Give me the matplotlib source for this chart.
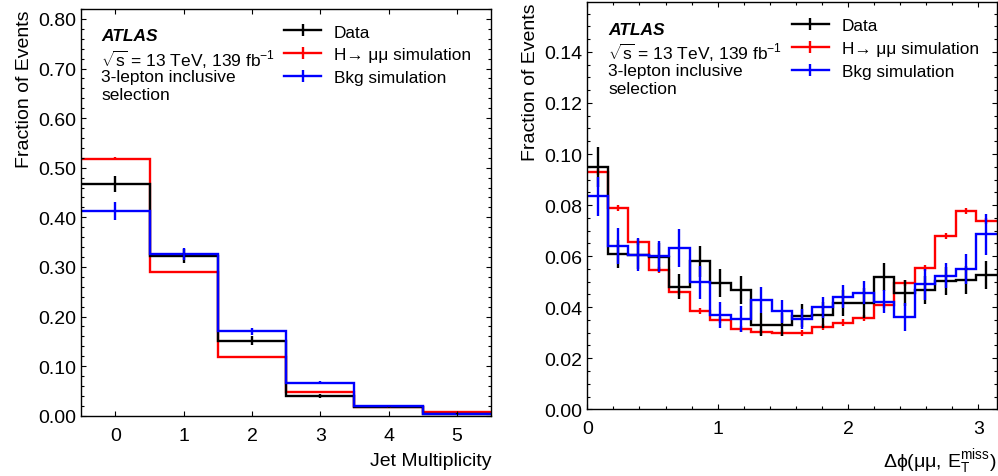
import matplotlib
matplotlib.use('Agg')
import matplotlib.pyplot as plt
from matplotlib.lines import Line2D
from matplotlib.ticker import MultipleLocator, FormatStrFormatter
import numpy as np

plt.rcParams['font.family'] = ['Liberation Sans', 'DejaVu Sans']
plt.rcParams['mathtext.fontset'] = 'custom'
plt.rcParams['mathtext.rm'] = 'Liberation Sans'
plt.rcParams['mathtext.it'] = 'Liberation Sans:italic'
plt.rcParams['mathtext.bf'] = 'Liberation Sans:bold'

# --- left panel: jet multiplicity ---
njet_edges = [-0.5, 0.5, 1.5, 2.5, 3.5, 4.5, 5.5]
njet_data = [0.467, 0.322, 0.151, 0.040, 0.018, 0.004]
njet_data_err = [0.016, 0.014, 0.009, 0.004, 0.002, 0.001]
njet_sig = [0.518, 0.289, 0.118, 0.048, 0.017, 0.007]
njet_sig_err = [0.003, 0.002, 0.002, 0.001, 0.0005, 0.0003]
njet_bkg = [0.412, 0.326, 0.170, 0.066, 0.019, 0.003]
njet_bkg_err = [0.018, 0.012, 0.007, 0.003, 0.001, 0.0005]

# --- right panel: delta phi(mumu, MET), 20 bins over [0, pi] ---
dphi_edges = np.linspace(0, np.pi, 21)
dphi_data = [0.0949, 0.0609, 0.0605, 0.0596, 0.0481, 0.0579, 0.0495, 0.0467, 0.0332, 0.0331,
             0.0367, 0.0370, 0.0417, 0.0417, 0.0520, 0.0455, 0.0469, 0.0504, 0.0505, 0.0527]
dphi_data_err = [0.008, 0.0055, 0.0055, 0.0055, 0.005, 0.006, 0.0055, 0.0055, 0.0045, 0.0045,
                 0.0045, 0.005, 0.005, 0.006, 0.0055, 0.005, 0.0055, 0.0055, 0.0055, 0.0055]
dphi_sig = [0.0928, 0.0788, 0.0656, 0.0544, 0.0461, 0.0384, 0.0350, 0.0315, 0.0304, 0.0299,
            0.0299, 0.0324, 0.0340, 0.0357, 0.0410, 0.0494, 0.0553, 0.0680, 0.0776, 0.0736]
dphi_sig_err = [0.0012] * 20
dphi_bkg = [0.0834, 0.0639, 0.0605, 0.0599, 0.0633, 0.0498, 0.0370, 0.0353, 0.0429, 0.0384,
            0.0354, 0.0399, 0.0440, 0.0456, 0.0422, 0.0363, 0.0490, 0.0524, 0.0550, 0.0685]
dphi_bkg_err = [0.0075, 0.007, 0.0065, 0.006, 0.0075, 0.0065, 0.005, 0.005, 0.005, 0.0045,
                0.004, 0.004, 0.0045, 0.0045, 0.0045, 0.0055, 0.006, 0.005, 0.006, 0.008]

colors = {'data': 'black', 'sig': '#ff0000', 'bkg': '#0000ff'}
labels = {'data': 'Data', 'sig': 'H\u2192 \u03bc\u03bc simulation', 'bkg': 'Bkg simulation'}
lw = 1.7

fig = plt.figure(figsize=(9.98, 4.77), dpi=100)
axL = fig.add_axes([0.0815, 0.1264, 0.4105, 0.8526])
axR = fig.add_axes([0.5885, 0.1398, 0.4102, 0.8537])


def draw(ax, edges, series):
    edges = np.asarray(edges)
    centers = 0.5 * (edges[1:] + edges[:-1])
    for key, vals, errs in series:
        ax.stairs(vals, edges, baseline=None, color=colors[key], lw=lw)
        ax.errorbar(centers, vals, yerr=errs, fmt='none', ecolor=colors[key], elinewidth=lw, capsize=0)


draw(axL, njet_edges, [('sig', njet_sig, njet_sig_err),
                       ('data', njet_data, njet_data_err),
                       ('bkg', njet_bkg, njet_bkg_err)])
draw(axR, dphi_edges, [('sig', dphi_sig, dphi_sig_err),
                       ('data', dphi_data, dphi_data_err),
                       ('bkg', dphi_bkg, dphi_bkg_err)])

axL.set_xlim(-0.5, 5.5)
axL.set_ylim(0, 0.82)
axL.xaxis.set_major_locator(MultipleLocator(1))
axL.yaxis.set_major_locator(MultipleLocator(0.1))
axL.yaxis.set_minor_locator(MultipleLocator(0.02))
axL.yaxis.set_major_formatter(FormatStrFormatter('%.2f'))
axL.set_xlabel('Jet Multiplicity', loc='right', fontsize=14, labelpad=6)

axR.set_xlim(0, np.pi)
axR.set_ylim(0, 0.1595)
axR.xaxis.set_major_locator(MultipleLocator(1))
axR.xaxis.set_minor_locator(MultipleLocator(0.2))
axR.yaxis.set_major_locator(MultipleLocator(0.02))
axR.yaxis.set_minor_locator(MultipleLocator(0.005))
axR.yaxis.set_major_formatter(FormatStrFormatter('%.2f'))
axR.set_xlabel(r'$\Delta\mathrm{\phi}(\mathrm{\mu\mu},\,\mathrm{E}_{\mathrm{T}}^{\mathrm{miss}})$',
               loc='right', fontsize=14, labelpad=6)

handles = [Line2D([], [], color=colors[k], lw=lw, marker='|', markersize=9, markeredgewidth=lw)
           for k in ('data', 'sig', 'bkg')]

for ax, tx, ty, lx, ly in [(axL, 0.048, [0.934, 0.877, 0.833, 0.790], 0.495, 0.962),
                           (axR, 0.0506, [0.932, 0.878, 0.831, 0.789], 0.499, 0.961)]:
    ax.set_ylabel('Fraction of Events', loc='top', fontsize=14)
    ax.tick_params(which='both', direction='in', top=True, right=True, labelsize=14)
    ax.tick_params(axis='x', which='major', pad=8)
    ax.tick_params(which='major', length=3.6, width=0.8)
    ax.tick_params(which='minor', length=2.0, width=0.8)
    for s in ax.spines.values():
        s.set_linewidth(1.0)
    ax.text(tx, ty[0], 'ATLAS', transform=ax.transAxes, fontsize=12.5,
            fontweight='bold', fontstyle='italic', va='center')
    ax.text(tx, ty[1], r'$\sqrt{\mathrm{s}}$ = 13 TeV, 139 fb$^{\mathrm{-1}}$', transform=ax.transAxes,
            fontsize=12.5, va='center')
    ax.text(tx, ty[2], '3-lepton inclusive', transform=ax.transAxes, fontsize=12.5, va='center')
    ax.text(tx, ty[3], 'selection', transform=ax.transAxes, fontsize=12.5, va='center')
    ax.legend(handles, [labels[k] for k in ('data', 'sig', 'bkg')], loc='upper left',
              bbox_to_anchor=(lx, ly), frameon=False, fontsize=12.4, borderpad=0,
              borderaxespad=0, handlelength=2.15, handletextpad=0.75, labelspacing=0.45,
              numpoints=1)

fig.savefig('out.png', dpi=100)
